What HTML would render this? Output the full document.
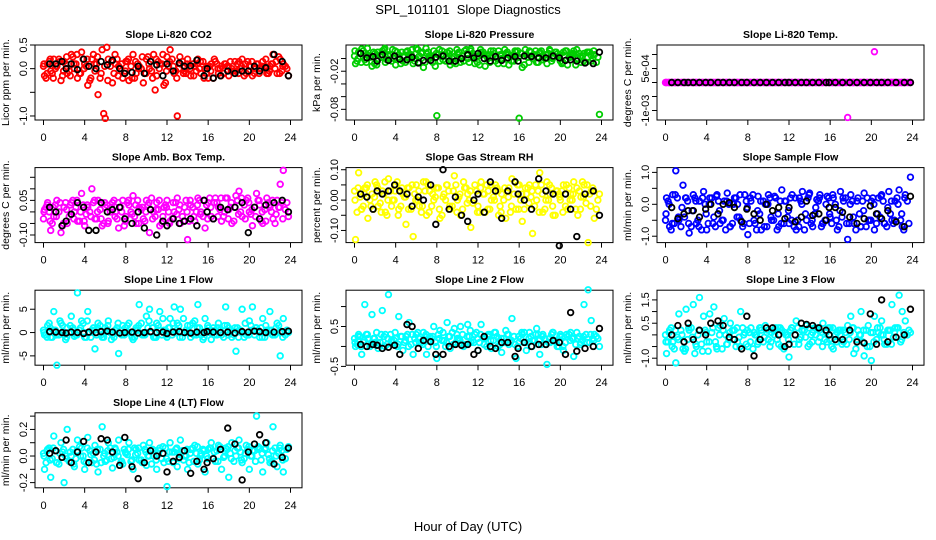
<!DOCTYPE html>
<html><head><meta charset="utf-8"><style>
html,body{margin:0;padding:0;background:#fff}
svg{display:block;font-family:"Liberation Sans",sans-serif}
</style></head><body>
<svg id="chart" width="936" height="540" viewBox="0 0 936 540">
<text x="468" y="14" font-size="13" text-anchor="middle" xml:space="preserve">SPL_101101  Slope Diagnostics</text>
<text x="468" y="531" font-size="13" text-anchor="middle">Hour of Day (UTC)</text>
</svg>
<script>
const hoursA=[0.1,0.4,0.7,1.0,1.3,1.7,2.0,2.3,2.7,3.0,3.3,3.7,4.0,4.3,4.7,5.0,5.3,5.7,6.0,6.3,6.7,7.0,7.3,7.7,8.0,8.3,8.7,9.0,9.3,9.7,10.0,10.3,10.7,11.0,11.3,11.7,12.0,12.3,12.7,13.0,13.3,13.7,14.0,14.3,14.7,15.0,15.3,15.7,16.0,16.3,16.7,17.0,17.3,17.7,18.0,18.3,18.7,19.0,19.3,19.7,20.0,20.3,20.7,21.0,21.3,21.7,22.0,22.3,22.7,23.0,23.3,23.8];
const hoursB=[0.0,0.25,0.55,0.85,1.15,1.5,1.85,2.15,2.5,2.85,3.15,3.5,3.85,4.15,4.5,4.85,5.15,5.5,5.85,6.15,6.5,6.85,7.15,7.5,7.85,8.15,8.5,8.85,9.15,9.5,9.85,10.15,10.5,10.85,11.15,11.5,11.85,12.15,12.5,12.85,13.15,13.5,13.85,14.15,14.5,14.85,15.15,15.5,15.85,16.15,16.5,16.85,17.15,17.5,17.85,18.15,18.5,18.85,19.15,19.5,19.85,20.15,20.5,20.85,21.15,21.5,21.85,22.15,22.5,22.85,23.15,23.5];
const hoursC=[0.05,0.35,0.65,0.95,1.25,1.6,1.95,2.25,2.6,2.95,3.25,3.6,3.95,4.25,4.6,4.95,5.25,5.6,5.95,6.25,6.6,6.95,7.25,7.6,7.95,8.25,8.6,8.95,9.25,9.6,9.95,10.25,10.6,10.95,11.25,11.6,11.95,12.25,12.6,12.95,13.25,13.6,13.95,14.25,14.6,14.95,15.25,15.6,15.95,16.25,16.6,16.95,17.25,17.6,17.95,18.25,18.6,18.95,19.25,19.6,19.95,20.25,20.6,20.95,21.25,21.6,21.95,22.25,22.6,22.95,23.25,23.65];
const hoursK=[0.6,1.2,1.8,2.2,2.7,3.3,3.9,4.4,5.1,5.6,6.2,6.7,7.4,7.9,8.6,9.2,9.8,10.4,11.0,11.6,12.0,12.6,13.2,13.7,14.3,14.9,15.6,15.9,16.5,17.2,17.9,18.6,19.3,19.9,20.5,21.0,21.6,22.4,23.2,23.8];
const xTicks=[0,4,8,12,16,20,24];

const c1a=[-0.15,0.1,-0.05,0.2,0.05,-0.25,0.15,-0.1,0.3,0.0,-0.2,0.35,0.1,-0.35,0.2,-0.05,-0.55,0.4,-1.05,0.2,-0.3,0.1,0.05,-0.2,0.15,-0.25,0.3,-0.1,0.05,-0.3,0.2,0.0,0.3,-0.15,0.1,-0.35,0.25,0.4,-0.1,-1.0,0.1,-0.05,0.2,-0.15,0.05,0.2,-0.1,0.0,-0.2,0.1,0.15,-0.1,0.05,0.1,-0.15,0.0,-0.05,0.15,0.2,-0.1,0.05,-0.15,0.1,0.0,0.15,-0.1,0.05,0.3,-0.1,0.2,0.1,-0.15];
const c1b=[0.05,-0.2,0.15,-0.1,0.0,0.2,-0.15,0.1,-0.05,0.25,0.1,-0.1,0.2,0.05,-0.25,0.3,0.1,-0.2,-0.95,0.45,0.05,-0.1,0.2,0.0,-0.1,0.15,0.05,-0.2,0.1,0.0,-0.1,0.25,-0.05,-0.45,0.15,0.1,-0.3,0.05,0.2,-0.05,0.0,0.15,-0.1,0.05,0.1,-0.05,0.0,0.15,-0.1,0.05,-0.2,0.1,0.0,-0.1,0.05,0.15,-0.05,0.1,0.0,-0.15,0.15,0.05,-0.1,0.1,0.0,0.05,-0.1,0.1,0.0,0.25,-0.05,0.05];
const c1c=[0.1,-0.1,0.2,-0.2,0.05,0.15,-0.05,0.25,-0.15,0.1,0.3,-0.1,0.0,0.2,-0.2,0.1,0.25,-0.1,0.05,-0.25,0.15,0.3,-0.15,0.1,-0.05,0.2,-0.2,0.15,0.0,0.25,-0.1,0.1,-0.2,0.2,0.0,0.3,-0.05,0.15,0.05,-0.2,0.25,-0.1,0.1,0.0,-0.15,0.1,0.15,-0.2,0.05,-0.05,0.2,0.0,-0.15,0.1,0.05,-0.05,0.15,-0.1,0.05,0.1,-0.05,0.15,0.0,-0.1,0.05,0.2,-0.05,0.1,0.15,-0.1,0.05,0.0];
const k1=[0.1,0.1,0.15,0.0,0.1,-0.02,0.2,0.05,0.0,0.15,0.08,0.18,0.0,-0.1,-0.08,0.05,-0.1,0.15,0.08,-0.15,0.1,-0.05,0.12,0.05,0.06,0.18,-0.15,0.0,-0.2,-0.15,-0.05,-0.1,-0.05,-0.05,0.05,-0.05,0.02,0.3,0.15,-0.15];

const c2a=[-0.008,0.01,0.015,-0.002,0.005,-0.012,0.008,0.0,0.012,-0.006,0.004,0.014,-0.01,0.006,-0.004,0.01,0.002,-0.008,0.016,0.004,-0.014,0.008,0.0,0.012,-0.09,-0.004,0.006,0.01,-0.01,0.003,0.008,-0.006,0.012,0.0,0.015,-0.008,0.004,0.01,-0.012,0.006,0.002,-0.004,0.012,0.0,0.008,-0.01,0.005,0.01,-0.094,-0.014,0.006,0.012,0.0,-0.006,0.01,0.004,-0.008,0.012,0.002,0.007,-0.004,0.01,-0.01,0.005,0.012,0.0,-0.006,0.008,0.01,-0.004,0.006,-0.088];
const c2b=[0.004,-0.004,0.008,0.012,-0.006,0.002,0.01,-0.01,0.005,0.014,-0.002,0.006,0.0,0.01,-0.008,0.004,0.012,0.006,-0.004,0.014,0.008,-0.006,0.01,0.002,-0.012,0.006,0.012,-0.004,0.008,0.0,-0.008,0.01,0.004,0.014,-0.006,0.008,0.002,-0.01,0.01,0.004,-0.006,0.012,0.0,0.006,-0.008,0.01,0.004,-0.004,0.012,0.008,-0.01,0.002,0.01,0.006,-0.006,0.012,0.0,0.008,-0.004,0.01,0.004,-0.008,0.012,0.002,0.006,-0.01,0.008,0.004,-0.006,0.01,0.0,-0.006];
const c2c=[0.012,0.0,-0.006,0.008,0.016,0.004,-0.008,0.01,0.002,0.016,0.006,-0.004,0.012,0.002,0.01,-0.006,0.006,0.014,0.0,-0.006,0.01,0.016,0.004,-0.006,0.008,0.014,-0.002,0.004,0.012,-0.006,0.014,0.002,-0.004,0.008,0.012,0.004,-0.006,0.014,0.006,0.0,0.012,0.008,-0.008,0.004,0.014,0.006,-0.004,0.012,0.002,0.008,0.014,-0.006,0.004,0.012,0.008,-0.002,0.006,0.014,0.0,0.01,0.006,-0.006,0.012,0.002,0.008,0.014,0.004,-0.004,0.01,0.006,0.012,0.002];
const k2=[0.008,0.001,0.003,-0.004,0.006,-0.003,0.004,-0.001,-0.002,0.002,-0.007,-0.003,-0.003,0.002,0.004,-0.004,-0.004,0.0,0.006,0.001,0.008,0.0,-0.004,0.003,-0.003,0.001,0.003,-0.004,0.004,0.003,0.001,0.001,0.004,0.001,-0.003,-0.002,-0.004,-0.007,-0.008,0.01];

const c3a=[0,0,0,0,0,0,0,0,0,0,0,0,0,0,0,0,0,0,0,0,0,0,0,0,0,0,0,0,0,0,0,0,0,0,0,0,0,0,0,0,0,0,0,0,0,0,0,0,0,0,0,0,0,-0.00125,0,0,0,0,0,0,0,0.0011,0,0,0,0,0,0,0,0,0,0];
const c3b=[0,0,0,0,0,0,0,0,0,0,0,0,0,0,0,0,0,0,0,0,0,0,0,0,0,0,0,0,0,0,0,0,0,0,0,0,0,0,0,0,0,0,0,0,0,0,0,0,0,0,0,0,0,0,0,0,0,0,0,0,0,0,0,0,0,0,0,0,0,0,0,0];
const c3c=[0,0,0,0,0,0,0,0,0,0,0,0,0,0,0,0,0,0,0,0,0,0,0,0,0,0,0,0,0,0,0,0,0,0,0,0,0,0,0,0,0,0,0,0,0,0,0,0,0,0,0,0,0,0,0,0,0,0,0,0,0,0,0,0,0,0,0,0,0,0,0,0];
const k3=[0,0,0,0,0,0,0,0,0,0,0,0,0,0,0,0,0,0,0,0,0,0,0,0,0,0,0,0,0,0,0,0,0,0,0,0,0,0,0,0];

const c4a=[0.01,0.04,-0.08,-0.02,0.05,-0.09,0.02,-0.05,0.04,0.0,-0.04,0.08,-0.06,0.02,0.1,-0.03,0.05,-0.06,0.02,-0.04,0.04,0.0,-0.07,0.05,-0.02,0.03,0.07,-0.05,0.02,-0.03,0.05,-0.09,0.0,0.04,-0.06,0.02,0.05,-0.04,0.0,0.06,-0.05,0.02,-0.12,0.03,-0.04,0.06,0.0,-0.07,0.04,-0.02,0.06,0.02,-0.04,0.06,0.01,-0.05,0.07,0.09,-0.02,0.05,0.0,-0.06,0.08,0.03,-0.05,0.06,0.02,-0.03,0.05,0.12,0.18,-0.02];
const c4b=[-0.03,0.02,0.0,-0.05,0.03,0.0,-0.06,0.04,-0.02,0.05,0.02,-0.04,0.03,-0.01,0.0,0.04,-0.03,0.01,-0.05,0.03,0.0,0.05,-0.03,0.02,-0.06,0.04,0.0,-0.02,0.05,0.01,-0.04,0.03,0.06,-0.02,0.01,-0.05,0.03,0.0,-0.03,0.04,0.01,-0.02,0.05,-0.04,0.02,0.0,0.05,-0.02,0.03,0.06,-0.03,0.04,0.01,-0.02,0.06,0.02,-0.04,0.05,0.0,0.03,0.06,-0.01,0.02,0.05,-0.04,0.01,0.04,0.0,-0.05,0.02,0.04,0.01];
const c4c=[0.0,0.03,-0.04,0.02,-0.02,0.04,-0.05,0.01,0.03,-0.03,0.05,0.0,-0.04,0.03,-0.02,0.05,0.0,-0.03,0.04,-0.05,0.02,-0.02,0.04,0.0,-0.04,0.05,-0.01,0.03,-0.05,0.02,0.0,0.04,-0.03,0.01,0.05,-0.02,0.02,-0.05,0.04,-0.01,0.03,-0.04,0.0,0.05,-0.02,0.03,-0.01,0.05,-0.03,0.02,0.04,-0.02,0.06,0.0,-0.03,0.04,0.02,-0.01,0.06,-0.03,0.04,0.01,-0.02,0.05,0.0,-0.04,0.03,0.05,-0.01,0.02,-0.03,0.04];
const k4=[0.02,0.0,-0.06,-0.04,-0.01,0.04,0.02,-0.08,-0.08,0.04,0.0,0.01,0.02,-0.03,-0.05,0.0,-0.07,0.01,-0.10,-0.04,-0.06,-0.03,-0.05,-0.04,-0.03,-0.06,0.05,0.0,-0.03,0.02,0.01,0.02,0.04,-0.09,0.02,-0.03,0.03,0.04,0.05,0.0];

const c5a=[-0.13,0.09,-0.03,0.04,-0.06,0.02,0.06,-0.02,0.03,-0.04,0.07,0.0,0.05,-0.03,0.02,-0.08,0.04,-0.12,0.05,-0.02,0.06,-0.05,0.03,0.0,0.04,-0.06,0.02,0.05,-0.03,0.08,0.0,-0.05,0.04,0.02,-0.09,0.05,-0.02,0.06,-0.04,0.03,0.0,0.05,-0.05,0.02,-0.06,0.04,0.07,-0.03,0.05,-0.07,0.02,0.05,-0.11,0.0,0.09,-0.04,0.06,0.02,-0.05,0.03,0.0,0.05,-0.03,0.02,0.06,-0.05,0.01,0.05,-0.14,0.03,-0.06,0.02];
const c5b=[0.03,-0.04,0.01,-0.02,0.04,0.0,-0.03,0.05,-0.01,0.02,-0.05,0.03,0.0,0.06,-0.02,0.01,0.04,-0.03,0.02,0.0,-0.04,0.03,0.05,-0.02,0.01,0.04,-0.05,0.0,0.03,-0.02,0.05,0.01,-0.03,0.04,0.0,-0.01,0.03,-0.04,0.02,0.05,-0.03,0.01,0.04,-0.02,0.0,0.03,-0.04,0.02,0.05,0.0,-0.03,0.04,0.01,-0.02,0.03,0.05,-0.03,0.0,0.04,-0.05,0.02,0.03,-0.02,0.04,0.0,-0.03,0.03,0.06,-0.01,0.02,0.04,-0.03];
const c5c=[0.0,0.04,-0.03,0.02,0.05,-0.02,0.01,0.04,-0.04,0.06,0.0,-0.02,0.03,-0.05,0.04,0.01,-0.03,0.05,0.0,0.03,-0.02,0.06,-0.04,0.02,0.04,-0.03,0.01,0.05,-0.02,0.03,-0.04,0.02,0.06,-0.01,0.03,0.0,-0.04,0.04,0.02,-0.03,0.05,0.0,0.03,-0.04,0.04,0.01,-0.02,0.06,-0.03,0.02,0.04,-0.01,0.03,0.05,-0.04,0.02,0.0,0.05,-0.02,0.03,0.01,-0.04,0.05,0.0,0.02,0.04,-0.03,0.01,0.05,-0.02,0.03,0.0];
const k5=[0.02,0.01,-0.03,0.03,0.02,0.03,0.05,0.03,0.02,-0.02,0.01,0.0,0.05,-0.08,0.1,-0.03,0.01,-0.05,-0.07,0.0,0.02,-0.04,0.06,0.03,-0.06,0.03,0.06,0.02,0.0,-0.03,0.07,0.03,0.02,-0.15,0.02,-0.03,-0.12,0.02,0.03,-0.05];

const c6a=[0.2,-0.7,0.3,1.05,-0.5,0.6,0.2,-0.9,0.3,-0.6,0.1,0.4,-0.8,0.2,-0.4,0.3,-0.6,0.1,0.35,-0.7,0.2,0.0,-0.5,0.3,-0.95,0.1,-0.6,0.25,-0.8,0.0,0.3,-0.5,0.2,-0.7,0.45,0.1,-0.6,0.3,-0.8,0.2,0.4,-0.5,0.35,-0.7,0.15,0.3,-0.6,0.25,-0.4,0.2,-0.8,0.4,0.1,-1.1,0.3,-0.6,0.2,-0.7,0.35,-0.5,0.1,-0.8,0.2,0.3,-0.6,0.4,-0.5,0.1,0.45,-0.7,0.3,0.85];
const c6b=[-0.5,0.1,-0.8,-0.6,0.2,-0.7,-0.4,0.1,-0.7,0.2,-0.5,-0.8,0.0,-0.6,0.2,-0.7,0.1,-0.5,-0.8,0.0,-0.6,0.2,-0.4,-0.7,0.1,-0.6,0.3,-0.8,-0.3,0.1,-0.7,0.2,-0.5,-0.8,0.1,-0.6,-0.4,0.2,-0.7,-0.5,0.1,-0.8,0.2,-0.6,-0.3,0.1,-0.7,-0.5,0.2,-0.6,0.0,-0.7,-0.4,0.2,-0.6,0.1,-0.8,-0.3,0.1,-0.7,-0.5,0.2,-0.6,-0.4,0.1,-0.7,-0.3,-0.6,0.2,-0.5,-0.8,0.1];
const c6c=[-0.3,0.0,-0.6,0.3,-0.4,-0.1,0.2,-0.6,-0.2,0.1,-0.7,0.2,-0.3,0.0,-0.6,0.25,-0.2,-0.5,0.1,-0.7,0.0,-0.4,0.3,-0.6,-0.1,0.2,-0.5,-0.2,0.1,-0.7,0.0,-0.4,0.25,-0.3,-0.6,0.1,-0.2,-0.5,0.2,-0.7,0.0,-0.3,0.3,-0.5,-0.1,0.2,-0.6,0.0,-0.3,0.3,-0.5,-0.2,0.2,-0.6,0.0,-0.4,0.1,-0.7,-0.2,0.2,-0.5,0.0,-0.3,0.25,-0.6,-0.1,0.1,-0.5,0.0,-0.3,0.2,-0.6];
const k6=[-0.1,-0.45,-0.3,-0.2,-0.2,-0.4,-0.15,0.0,-0.3,0.0,0.05,-0.1,-0.55,-0.15,-0.3,-0.5,0.0,-0.2,-0.1,-0.45,-0.1,-0.55,-0.4,0.1,-0.35,-0.3,-0.5,-0.1,-0.1,-0.25,-0.4,-0.6,-0.45,-0.05,-0.3,-0.45,-0.2,-0.55,-0.7,0.25];

const c7a=[-0.5,1.5,-1.0,4.5,-7.0,2.0,-0.5,1.0,3.5,-0.8,8.5,2.5,-1.0,4.5,0.5,-3.5,2.0,-1.0,1.0,2.5,-0.5,0.5,-4.5,1.5,0.0,2.0,-1.5,1.0,6.0,-0.5,3.5,5.0,-1.0,2.0,4.5,0.5,-1.0,3.0,5.5,2.0,5.0,0.0,1.5,-1.0,2.5,6.0,-0.5,3.0,1.0,-1.5,0.5,2.0,-0.5,5.5,1.0,-1.0,-4.0,0.5,5.0,-0.5,2.5,5.5,1.0,-1.0,3.0,0.5,4.5,-0.5,2.0,-5.0,3.0,0.0];
const c7b=[0.5,-0.5,2.0,-1.0,0.5,-0.5,1.5,-1.5,0.0,1.0,-0.5,0.5,2.0,-1.0,0.0,1.0,-0.5,1.5,-1.0,0.5,0.0,-1.0,1.0,0.5,-0.5,1.5,0.0,-1.0,0.5,2.0,-0.5,1.0,0.0,-1.0,1.5,-0.5,0.5,1.0,-0.5,0.0,1.5,-1.0,0.5,0.0,2.0,-0.5,1.0,-1.5,0.5,0.0,1.0,-0.5,0.5,-1.0,1.5,0.0,-0.5,1.0,0.5,-1.0,0.0,1.5,-0.5,0.5,1.0,-1.0,0.0,0.5,-0.5,1.5,0.0,-0.5];
const c7c=[0.0,-1.0,1.0,0.5,-0.5,2.5,0.0,-1.0,1.5,0.5,-0.5,1.0,0.0,2.5,-1.0,0.5,1.0,-0.5,0.0,1.5,-1.5,0.5,2.0,-0.5,1.0,0.0,-1.0,0.5,1.5,-0.5,0.0,2.5,1.0,-1.0,0.5,3.0,-0.5,1.0,2.0,0.5,-1.0,3.0,0.0,1.5,-0.5,1.0,0.0,-1.0,1.5,0.5,-0.5,1.0,0.0,1.5,-0.5,0.5,1.0,-1.0,0.0,2.0,-0.5,0.5,1.0,0.0,-1.0,1.5,0.5,-0.5,1.0,0.0,-1.0,0.5];
const k7=[0.2,0.1,0.0,-0.1,0.1,0.0,-0.2,0.1,0.0,0.2,0.3,0.1,-0.1,0.0,0.1,-0.1,0.0,0.2,0.0,0.1,-0.2,0.1,0.2,0.0,-0.1,0.1,0.0,0.2,0.1,0.0,0.1,-0.1,0.2,0.1,0.3,0.2,0.0,0.1,0.2,0.3];

const c8a=[0.0,0.3,-0.2,1.05,0.2,0.8,0.1,-0.05,0.9,0.3,1.3,0.1,0.2,0.75,-0.1,0.25,0.6,-0.2,0.3,0.1,0.35,-0.2,0.25,0.5,-0.3,0.4,0.15,0.6,-0.05,0.45,0.2,0.5,0.05,0.55,0.1,0.3,-0.1,0.55,0.2,0.3,-0.05,0.35,0.2,-0.15,0.4,0.05,0.7,-0.3,0.1,0.3,-0.1,0.35,0.15,0.45,-0.2,0.3,-0.45,0.1,0.35,0.0,0.3,-0.1,0.25,0.35,-0.25,0.2,0.1,1.05,1.42,0.65,0.3,0.0];
const c8b=[0.2,0.05,0.25,0.1,0.3,0.0,0.2,0.35,0.1,0.25,0.05,0.3,0.15,0.0,0.25,0.1,0.3,0.05,0.2,0.35,0.1,0.25,0.0,0.2,0.1,0.3,0.15,0.0,0.25,0.35,0.1,0.2,0.3,0.05,0.25,0.15,0.35,0.1,0.2,0.0,0.3,0.15,0.25,0.05,0.2,0.3,0.1,0.25,0.0,0.2,0.35,0.1,0.25,0.15,0.3,0.05,0.2,0.1,0.3,0.15,0.0,0.25,0.1,0.3,0.2,0.05,0.25,0.15,0.3,0.1,0.2,0.25];
const c8c=[0.1,0.25,0.0,0.15,0.3,0.05,0.2,0.1,0.3,0.0,0.2,0.15,0.35,0.05,0.25,0.15,0.0,0.3,0.1,0.2,0.05,0.3,0.15,0.25,0.0,0.2,0.35,0.1,0.25,0.05,0.3,0.15,0.0,0.25,0.4,0.1,0.2,0.3,0.05,0.25,0.15,0.35,0.0,0.2,0.1,0.3,0.15,0.05,0.25,0.35,0.1,0.2,0.0,0.3,0.15,0.25,0.05,0.2,0.35,0.1,0.25,0.0,0.3,0.15,0.2,0.35,0.05,0.25,0.1,0.3,0.15,0.2];
const k8=[0.05,0.0,0.05,0.03,-0.05,-0.02,0.03,-0.2,0.55,0.5,-0.05,0.15,0.12,-0.2,-0.2,0.0,0.05,0.03,0.05,-0.2,-0.1,0.25,0.0,-0.05,0.1,0.1,-0.25,-0.05,0.1,0.0,0.05,0.05,0.15,0.1,-0.2,0.85,-0.12,-0.05,0.0,0.45];

const c9a=[-0.8,0.2,-0.3,-1.2,0.9,-0.6,1.1,0.2,1.3,-0.5,1.6,0.8,-0.3,0.9,1.2,-0.6,0.4,0.7,-0.4,0.5,0.2,-0.3,1.0,0.1,-0.5,0.3,0.0,-0.3,0.2,0.4,-0.2,0.1,0.3,-0.4,0.2,0.0,-0.95,0.3,0.6,-0.2,0.2,0.4,-0.4,0.1,0.3,-0.1,0.5,-0.3,0.3,-0.6,0.1,0.2,-0.3,0.4,0.8,-0.8,0.2,1.0,-0.9,0.4,-1.1,0.8,0.1,0.6,-0.4,0.2,1.3,0.3,1.7,1.0,0.6,0.1];
const c9b=[0.0,-0.3,0.3,-0.6,-0.1,0.2,-0.7,-0.2,0.3,-0.8,0.0,-0.4,0.2,-0.7,0.1,-0.3,0.3,-0.6,0.0,-0.2,0.2,-0.5,-0.1,0.3,-0.4,0.1,-0.6,0.0,0.3,-0.3,0.1,-0.5,0.2,-0.2,0.3,-0.6,0.0,0.2,-0.4,0.3,-0.1,0.2,-0.5,0.0,0.3,-0.3,0.1,-0.2,0.3,-0.5,0.0,0.2,-0.4,0.1,-0.2,0.3,-0.6,0.0,-0.3,0.2,-0.5,0.1,-0.2,0.3,0.0,-0.4,0.2,-0.1,0.3,-0.3,0.1,0.0];
const c9c=[-0.3,0.1,-0.5,0.2,-0.2,0.0,-0.6,0.3,-0.1,-0.4,0.2,-0.7,0.1,-0.3,0.3,-0.5,0.0,0.2,-0.4,0.1,-0.2,0.3,-0.5,0.0,0.2,-0.3,0.1,-0.4,0.3,-0.1,0.2,-0.3,0.0,0.3,-0.5,0.1,-0.2,0.3,0.0,-0.4,0.2,-0.1,0.3,-0.3,0.0,0.2,-0.5,0.1,-0.2,0.3,-0.3,0.0,0.2,-0.4,0.1,0.3,-0.2,0.0,0.2,-0.5,0.1,-0.3,0.3,0.0,-0.2,0.2,-0.4,0.1,0.3,-0.2,0.0,0.2];
const k9=[0.0,0.4,-0.3,0.5,-0.2,0.2,0.0,0.5,0.6,0.4,-0.1,-0.2,-0.6,0.8,-0.9,-0.2,0.3,0.3,0.0,-0.5,-0.4,0.0,0.5,0.45,0.4,0.3,0.2,0.0,-0.2,-0.2,0.2,-0.3,-0.35,0.9,-0.4,1.5,-0.3,-0.1,0.0,1.1];

const c10a=[-0.1,0.05,-0.16,0.15,-0.05,0.1,-0.2,0.2,0.0,-0.08,0.12,0.06,-0.1,0.14,-0.05,0.08,-0.12,0.22,-0.04,0.1,-0.09,0.05,0.12,-0.06,0.02,0.1,-0.1,0.05,-0.03,0.08,-0.07,0.1,0.0,-0.1,0.06,-0.05,-0.23,0.1,0.03,-0.08,0.12,0.0,-0.1,0.05,0.08,-0.06,0.02,-0.12,0.05,0.1,-0.04,0.08,-0.1,0.06,-0.16,0.1,0.0,0.12,-0.05,0.08,-0.1,0.04,0.3,0.06,-0.12,0.1,-0.05,0.22,-0.08,0.08,-0.12,0.07];
const c10b=[0.02,-0.05,0.06,-0.02,0.04,-0.06,0.03,0.0,-0.04,0.05,-0.02,0.07,0.0,-0.05,0.04,0.02,-0.06,0.05,0.0,-0.03,0.06,-0.01,0.03,-0.05,0.05,0.01,-0.04,0.06,0.02,-0.03,0.05,0.0,-0.06,0.04,0.02,-0.02,0.06,-0.04,0.03,0.05,-0.02,0.04,0.0,-0.05,0.06,0.02,-0.03,0.05,0.0,0.06,-0.02,0.04,0.07,-0.01,0.05,0.02,-0.04,0.06,0.03,-0.02,0.05,0.0,0.04,0.07,-0.03,0.05,0.01,-0.04,0.06,0.02,0.04,-0.02];
const c10c=[0.0,0.04,-0.03,0.06,-0.05,0.02,0.05,-0.02,0.03,-0.06,0.04,0.0,-0.04,0.06,0.01,-0.03,0.05,-0.05,0.02,0.04,-0.02,0.06,0.0,-0.04,0.03,0.05,-0.03,0.01,0.06,-0.05,0.03,0.0,0.05,-0.03,0.04,0.07,-0.02,0.03,-0.05,0.06,0.01,-0.03,0.05,0.02,-0.04,0.07,0.0,0.04,-0.02,0.06,0.03,-0.04,0.05,0.0,0.07,-0.02,0.04,0.06,-0.03,0.02,0.07,0.0,-0.04,0.05,0.02,0.06,-0.02,0.04,0.0,0.06,-0.03,0.05];
const k10=[0.02,0.04,-0.01,0.12,-0.05,0.03,0.11,-0.05,0.03,0.13,0.12,0.03,-0.07,0.14,-0.08,-0.17,-0.05,0.04,0.0,0.02,-0.12,-0.04,-0.01,0.04,-0.13,-0.04,-0.1,-0.05,-0.02,0.05,0.21,0.09,-0.18,0.03,0.09,0.16,0.1,-0.06,-0.01,0.06];

const panelTitles=["Slope Li-820 CO2","Slope Li-820 Pressure","Slope Li-820 Temp.","Slope Amb. Box Temp.","Slope Gas Stream RH","Slope Sample Flow","Slope Line 1 Flow","Slope Line 2 Flow","Slope Line 3 Flow","Slope Line 4 (LT) Flow"];
const yTitles=["Licor ppm per min.","kPa per min.","degrees C per min.","degrees C per min.","percent per min.","ml/min per min.","ml/min per min.","ml/min per min.","ml/min per min.","ml/min per min."];
const yRanges=[[-1.085,0.5],[-0.0968,0.0213],[-0.00134,0.00134],[-0.133,0.192],[-0.14,0.107],[-1.2,1.15],[-7.0,9.08],[-0.47,1.41],[-1.3,1.916],[-0.239,0.325]];
const yTickVals=[[-1,-0.5,0,0.5],[-0.08,-0.06,-0.04,-0.02,0],[-0.001,-0.0005,0,0.0005,0.001],[-0.1,-0.05,0,0.05,0.1,0.15],[-0.1,-0.05,0,0.05,0.1],[-1,-0.5,0,0.5,1],[-5,0,5],[-0.5,0,0.5,1],[-1,-0.5,0,0.5,1,1.5],[-0.2,-0.1,0,0.1,0.2,0.3]];
const yTickLabels=[["-1.0","","0.0","0.5"],["-0.08","","","-0.02",""],["-1e-03","","","5e-04",""],["-0.10","","","0.05","",""],["-0.10","","0.00","","0.10"],["-1.0","","0.0","","1.0"],["-5","0","5"],["-0.5","","0.5",""],["-1.0","","","0.5","","1.5"],["-0.2","","0.0","","0.2",""]];
const colSeries=[[c1a,c1b,c1c,k1],[c2a,c2b,c2c,k2],[c3a,c3b,c3c,k3],[c4a,c4b,c4c,k4],[c5a,c5b,c5c,k5],[c6a,c6b,c6c,k6],[c7a,c7b,c7c,k7],[c8a,c8b,c8c,k8],[c9a,c9b,c9c,k9],[c10a,c10b,c10c,k10]];
const colors=["#ff0000","#00cd00","#ff00ff","#ff00ff","#ffff00","#0000ff","#00ffff","#00ffff","#00ffff","#00ffff"];

const NS="http://www.w3.org/2000/svg";
const svg=document.getElementById('chart');
function mk(tag,attrs,parent){const e=document.createElementNS(NS,tag);for(const k in attrs)e.setAttribute(k,attrs[k]);(parent||svg).appendChild(e);return e;}
const slug=s=>s.toLowerCase().replace(/[^a-z0-9]+/g,'-').replace(/^-|-$/g,'');

panelTitles.forEach((title,p)=>{
  const col=p%3,row=Math.floor(p/3);
  const L=35+col*311,R=L+267,T=45+row*122.6,B=T+75;
  const x0=L+8.5,x1=R-11.5;
  const xs=h=>x0+(x1-x0)*h/24;
  const [ymin,ymax]=yRanges[p];
  const ys=v=>B-(v-ymin)/(ymax-ymin)*(B-T);
  const g=mk('g',{});
  
  
  const t=mk('text',{x:(L+R)/2,y:T-7,'font-size':10.5,'font-weight':'bold','text-anchor':'middle'},g);
  t.textContent=title;
  
  
  const yt=mk('text',{x:0,y:0,'font-size':10.5,'text-anchor':'middle',transform:`translate(${L-26},${(T+B)/2}) rotate(-90)`},g);
  yt.textContent=yTitles[p];
  
  
  xTicks.forEach(h=>{
    const tk=mk('line',{x1:xs(h),x2:xs(h),y1:B,y2:B+5,stroke:'#000','stroke-width':1},g);
    
    
    const tl=mk('text',{x:xs(h),y:B+21,'font-size':11,'text-anchor':'middle'},g);
    tl.textContent=String(h);
    
    
  });
  yTickVals[p].forEach((v,i)=>{
    const yy=ys(v);
    const tk=mk('line',{x1:L-5,x2:L,y1:yy,y2:yy,stroke:'#000','stroke-width':1},g);
    
    
    const lab=yTickLabels[p][i];
    if(lab){
      const tl=mk('text',{x:0,y:0,'font-size':11,'text-anchor':'middle',transform:`translate(${L-8},${yy}) rotate(-90)`},g);
      tl.textContent=lab;
      
      
    }
  });
  const box=mk('rect',{x:L,y:T,width:R-L,height:B-T,fill:'none',stroke:'#000','stroke-width':1},g);
  
  
  const [sa,sb,sc,sk]=colSeries[p];
  const series=[[hoursA,sa,colors[p],'colored-points-a'],[hoursB,sb,colors[p],'colored-points-b'],[hoursC,sc,colors[p],'colored-points-c'],[hoursK,sk,'#000','black-points']];
  series.forEach(([hs,vals,color,name])=>{
    const sg=mk('g',{fill:'none',stroke:color,'stroke-width':1.8},g);
    
    
    const n=Math.min(hs.length,vals.length);
    for(let i=0;i<n;i++){
      const c=mk('circle',{cx:xs(hs[i]),cy:ys(vals[i]),r:2.8},sg);
      
      
    }
  });
});
</script>
</body></html>
